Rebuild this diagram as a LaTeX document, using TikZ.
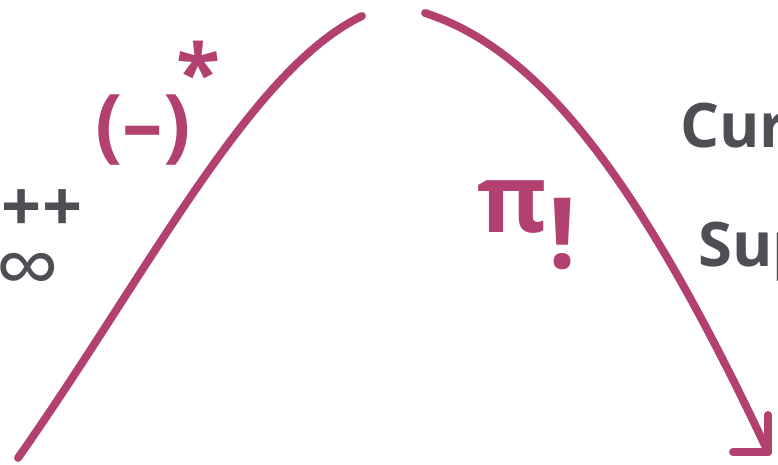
\documentclass[tikz,border=0pt]{standalone}
\usepackage{fontspec}
\setmainfont{Open Sans}
\definecolor{marker}{HTML}{B3416F}
\definecolor{pencil}{HTML}{4E4E55}

\begin{document}
\begin{tikzpicture}[
    x=0.02cm, y=-0.02cm,
    curve/.style={marker, line width=4.5pt, line cap=round, line join=round},
    pinklabel/.style={marker, font=\fontsize{46}{46}\selectfont\bfseries, inner sep=0pt},
    greylabel/.style={pencil, font=\fontsize{35}{35}\selectfont\bfseries, inner sep=0pt}
]
\useasboundingbox (0,0) rectangle (778,465);
\clip (0,0) rectangle (778,465);

\coordinate (lbot) at (18,458);
\coordinate (ltop) at (362,16);
\coordinate (rtop) at (425,13);
\coordinate (tip) at (768,452);

% the two branches of the hill
\draw[curve] (lbot) .. controls (150,270) and (250,70) .. (ltop);
\draw[curve] (rtop) .. controls (540,50) and (640,180) .. (tip);
\draw[curve] (tip) ++(0,-37) -- (tip) -- ++(-35,0);

% labels
\node[pinklabel] (paren) at (143,130) {(–)};
\node[pinklabel] (star) at (199,72) {*};
\node[pinklabel, font=\fontsize{54}{54}\selectfont\bfseries] (pi) at (513,207) {π};
\node[pinklabel, font=\fontsize{56}{56}\selectfont\bfseries] (bang) at (563,234) {!};

\node[greylabel, font=\fontsize{40}{40}\selectfont\bfseries] (plus) at (42,211) {++};
\node[greylabel, font=\fontsize{52}{52}\selectfont] (inf) at (28,276) {∞};
\node[greylabel, anchor=base west] (curv) at (680,148) {Curv};
\node[greylabel, anchor=base west] (sup) at (698,267) {Sup};
\end{tikzpicture}
\end{document}
